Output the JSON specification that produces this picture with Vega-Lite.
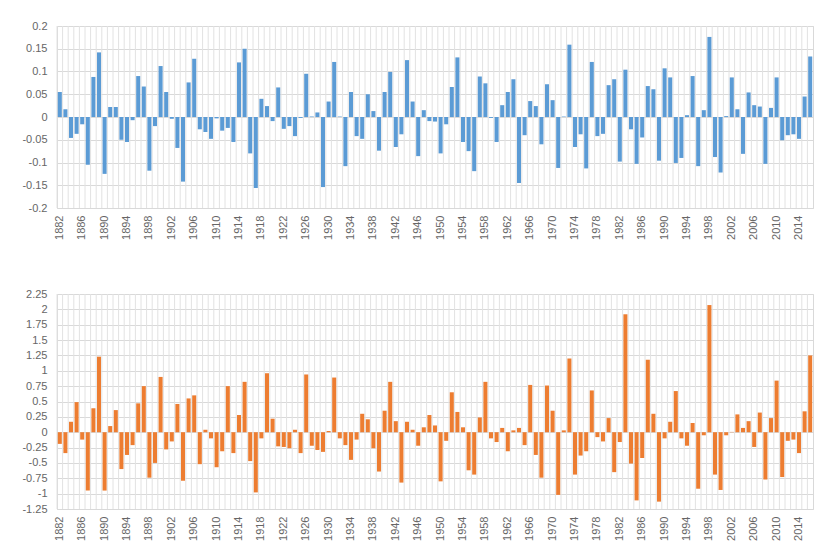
{
  "$schema": "https://vega.github.io/schema/vega-lite/v6.json",
  "background": "white",
  "padding": {"left": 21, "top": 19, "right": 0, "bottom": 0},
  "spacing": 47,
  "data": {"values": [
    {"year":1882,"a":0.055,"b":-0.19},{"year":1883,"a":0.017,"b":-0.34},{"year":1884,"a":-0.046,"b":0.17},{"year":1885,"a":-0.037,"b":0.49},{"year":1886,"a":-0.016,"b":-0.12},
    {"year":1887,"a":-0.105,"b":-0.95},{"year":1888,"a":0.088,"b":0.39},{"year":1889,"a":0.142,"b":1.23},{"year":1890,"a":-0.125,"b":-0.95},{"year":1891,"a":0.022,"b":0.10},
    {"year":1892,"a":0.022,"b":0.36},{"year":1893,"a":-0.05,"b":-0.6},{"year":1894,"a":-0.055,"b":-0.37},{"year":1895,"a":-0.007,"b":-0.21},{"year":1896,"a":0.09,"b":0.47},
    {"year":1897,"a":0.067,"b":0.75},{"year":1898,"a":-0.118,"b":-0.74},{"year":1899,"a":-0.02,"b":-0.5},{"year":1900,"a":0.112,"b":0.9},{"year":1901,"a":0.055,"b":-0.28},
    {"year":1902,"a":-0.004,"b":-0.15},{"year":1903,"a":-0.068,"b":0.46},{"year":1904,"a":-0.142,"b":-0.79},{"year":1905,"a":0.076,"b":0.55},{"year":1906,"a":0.128,"b":0.6},
    {"year":1907,"a":-0.027,"b":-0.52},{"year":1908,"a":-0.033,"b":0.04},{"year":1909,"a":-0.048,"b":-0.1},{"year":1910,"a":-0.003,"b":-0.57},{"year":1911,"a":-0.03,"b":-0.31},
    {"year":1912,"a":-0.024,"b":0.75},{"year":1913,"a":-0.055,"b":-0.34},{"year":1914,"a":0.12,"b":0.28},{"year":1915,"a":0.15,"b":0.82},{"year":1916,"a":-0.08,"b":-0.47},
    {"year":1917,"a":-0.156,"b":-0.98},{"year":1918,"a":0.04,"b":-0.1},{"year":1919,"a":0.024,"b":0.96},{"year":1920,"a":-0.009,"b":0.22},{"year":1921,"a":0.065,"b":-0.23},
    {"year":1922,"a":-0.026,"b":-0.24},{"year":1923,"a":-0.02,"b":-0.26},{"year":1924,"a":-0.042,"b":0.04},{"year":1925,"a":-0.002,"b":-0.34},{"year":1926,"a":0.095,"b":0.94},
    {"year":1927,"a":0.001,"b":-0.22},{"year":1928,"a":0.01,"b":-0.29},{"year":1929,"a":-0.154,"b":-0.32},{"year":1930,"a":0.034,"b":0.02},{"year":1931,"a":0.121,"b":0.89},
    {"year":1932,"a":0.001,"b":-0.1},{"year":1933,"a":-0.108,"b":-0.21},{"year":1934,"a":0.055,"b":-0.45},{"year":1935,"a":-0.042,"b":-0.12},{"year":1936,"a":-0.048,"b":0.3},
    {"year":1937,"a":0.05,"b":0.21},{"year":1938,"a":0.013,"b":-0.26},{"year":1939,"a":-0.074,"b":-0.64},{"year":1940,"a":0.055,"b":0.35},{"year":1941,"a":0.099,"b":0.82},
    {"year":1942,"a":-0.066,"b":0.18},{"year":1943,"a":-0.038,"b":-0.82},{"year":1944,"a":0.125,"b":0.17},{"year":1945,"a":0.034,"b":0.04},{"year":1946,"a":-0.086,"b":-0.22},
    {"year":1947,"a":0.015,"b":0.08},{"year":1948,"a":-0.009,"b":0.28},{"year":1949,"a":-0.01,"b":0.11},{"year":1950,"a":-0.08,"b":-0.8},{"year":1951,"a":-0.016,"b":-0.14},
    {"year":1952,"a":0.066,"b":0.65},{"year":1953,"a":0.131,"b":0.33},{"year":1954,"a":-0.055,"b":0.08},{"year":1955,"a":-0.075,"b":-0.62},{"year":1956,"a":-0.119,"b":-0.69},
    {"year":1957,"a":0.089,"b":0.24},{"year":1958,"a":0.074,"b":0.82},{"year":1959,"a":-0.002,"b":-0.1},{"year":1960,"a":-0.055,"b":-0.16},{"year":1961,"a":0.026,"b":0.07},
    {"year":1962,"a":0.055,"b":-0.31},{"year":1963,"a":0.083,"b":0.03},{"year":1964,"a":-0.145,"b":0.07},{"year":1965,"a":-0.04,"b":-0.21},{"year":1966,"a":0.035,"b":0.77},
    {"year":1967,"a":0.024,"b":-0.37},{"year":1968,"a":-0.06,"b":-0.74},{"year":1969,"a":0.072,"b":0.76},{"year":1970,"a":0.037,"b":0.35},{"year":1971,"a":-0.112,"b":-1.02},
    {"year":1972,"a":0.001,"b":0.03},{"year":1973,"a":0.159,"b":1.2},{"year":1974,"a":-0.066,"b":-0.69},{"year":1975,"a":-0.038,"b":-0.38},{"year":1976,"a":-0.113,"b":-0.31},
    {"year":1977,"a":0.121,"b":0.68},{"year":1978,"a":-0.042,"b":-0.08},{"year":1979,"a":-0.037,"b":-0.15},{"year":1980,"a":0.07,"b":0.23},{"year":1981,"a":0.083,"b":-0.65},
    {"year":1982,"a":-0.098,"b":-0.16},{"year":1983,"a":0.104,"b":1.92},{"year":1984,"a":-0.027,"b":-0.51},{"year":1985,"a":-0.103,"b":-1.11},{"year":1986,"a":-0.045,"b":-0.42},
    {"year":1987,"a":0.068,"b":1.18},{"year":1988,"a":0.061,"b":0.3},{"year":1989,"a":-0.096,"b":-1.13},{"year":1990,"a":0.107,"b":-0.1},{"year":1991,"a":0.087,"b":0.17},
    {"year":1992,"a":-0.101,"b":0.67},{"year":1993,"a":-0.09,"b":-0.1},{"year":1994,"a":0.004,"b":-0.22},{"year":1995,"a":0.09,"b":0.15},{"year":1996,"a":-0.108,"b":-0.92},
    {"year":1997,"a":0.015,"b":-0.05},{"year":1998,"a":0.176,"b":2.07},{"year":1999,"a":-0.088,"b":-0.69},{"year":2000,"a":-0.122,"b":-0.94},{"year":2001,"a":0.002,"b":-0.05},
    {"year":2002,"a":0.087,"b":0.005},{"year":2003,"a":0.017,"b":0.29},{"year":2004,"a":-0.081,"b":0.07},{"year":2005,"a":0.054,"b":0.18},{"year":2006,"a":0.026,"b":-0.24},
    {"year":2007,"a":0.023,"b":0.32},{"year":2008,"a":-0.103,"b":-0.77},{"year":2009,"a":0.02,"b":0.23},{"year":2010,"a":0.087,"b":0.84},{"year":2011,"a":-0.051,"b":-0.73},
    {"year":2012,"a":-0.04,"b":-0.14},{"year":2013,"a":-0.038,"b":-0.12},{"year":2014,"a":-0.048,"b":-0.34},{"year":2015,"a":0.045,"b":0.34},{"year":2016,"a":0.133,"b":1.25}
  ]},
  "config": {
    "view": {"stroke": "#d9d9d9"},
    "axis": {"labelFont": "Liberation Sans", "labelFontSize": 11, "labelColor": "#666666", "domain": false, "ticks": false, "gridColor": "#d9d9d9", "title": null}
  },
  "vconcat": [
    {
      "width": 756, "height": 182,
      "layer": [
        {
          "mark": {"type": "rule", "color": "#e2e2e2", "strokeWidth": 1},
          "encoding": {
            "x": {"field": "year", "type": "ordinal", "bandPosition": 0, "scale": {"paddingInner": 0, "paddingOuter": 0},
                  "axis": {"grid": false, "labelAngle": 270, "labelPadding": 7, "labelOverlap": false, "labelExpr": "(datum.value - 1882) % 4 == 0 ? datum.label : ''"}}
          }
        },
        {
          "mark": {"type": "bar", "color": "#5b9bd5", "width": {"band": 0.72}},
          "encoding": {
            "x": {"field": "year", "type": "ordinal", "scale": {"paddingInner": 0, "paddingOuter": 0},
                  "axis": {"grid": false, "labelAngle": 270, "labelPadding": 7, "labelOverlap": false, "labelExpr": "(datum.value - 1882) % 4 == 0 ? datum.label : ''"}},
            "y": {"field": "a", "type": "quantitative", "scale": {"domain": [-0.2, 0.2], "nice": false},
                  "axis": {"values": [0.2, 0.15, 0.1, 0.05, 0, -0.05, -0.1, -0.15, -0.2], "labelPadding": 10, "labelExpr": "'' + datum.value"}}
          }
        }
      ]
    },
    {
      "width": 756, "height": 215,
      "layer": [
        {
          "mark": {"type": "rule", "color": "#e2e2e2", "strokeWidth": 1},
          "encoding": {
            "x": {"field": "year", "type": "ordinal", "bandPosition": 0, "scale": {"paddingInner": 0, "paddingOuter": 0},
                  "axis": {"grid": false, "labelAngle": 270, "labelPadding": 7, "labelOverlap": false, "labelExpr": "(datum.value - 1882) % 4 == 0 ? datum.label : ''"}}
          }
        },
        {
          "mark": {"type": "bar", "color": "#ed7d31", "width": {"band": 0.72}},
          "encoding": {
            "x": {"field": "year", "type": "ordinal", "scale": {"paddingInner": 0, "paddingOuter": 0},
                  "axis": {"grid": false, "labelAngle": 270, "labelPadding": 7, "labelOverlap": false, "labelExpr": "(datum.value - 1882) % 4 == 0 ? datum.label : ''"}},
            "y": {"field": "b", "type": "quantitative", "scale": {"domain": [-1.25, 2.25], "nice": false},
                  "axis": {"values": [2.25, 2, 1.75, 1.5, 1.25, 1, 0.75, 0.5, 0.25, 0, -0.25, -0.5, -0.75, -1, -1.25], "labelPadding": 10, "labelExpr": "'' + datum.value"}}
          }
        }
      ]
    }
  ]
}
